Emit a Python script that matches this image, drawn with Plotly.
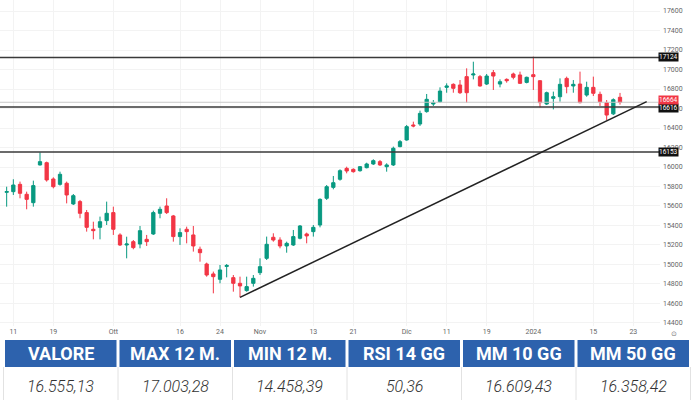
import pandas as pd
import plotly.graph_objects as go

# Data: daily candles, 8 Sep 2023 - 19 Jan 2024
opens = [15740, 15747, 15822, 15720, 15634, 16021, 16044, 15877, 15822, 15833,
         15621, 15645, 15532, 15361, 15381, 15450, 15532, 15303, 15200, 15234,
         15210, 15258, 15313, 15525, 15600, 15498, 15286, 15361, 15303, 15156,
         15005, 14903, 14848, 14980, 14865, 14807, 14732, 14807, 14916, 15063,
         15279, 15251, 15190, 15200, 15269, 15313, 15337, 15405, 15679, 15791,
         15874, 15986, 15976, 15962, 15993, 16031, 16055, 16003, 16021, 16209,
         16277, 16431, 16441, 16568, 16646, 16670, 16817, 16848, 16841, 16927,
         16944, 16927, 16851, 16968, 16851, 16899, 16954, 16944, 16868, 16947,
         16885, 16646, 16704, 16721, 16909, 16831, 16851, 16738, 16817, 16745,
         16660, 16545, 16715]
highs = [15798, 15874, 15850, 15747, 15860, 16150, 16055, 15894, 15952, 15850,
         15723, 15662, 15559, 15439, 15491, 15645, 15593, 15320, 15285, 15251,
         15395, 15303, 15552, 15593, 15679, 15508, 15371, 15388, 15395, 15183,
         15019, 14927, 14995, 15005, 14892, 14875, 14875, 14892, 15063, 15286,
         15320, 15279, 15234, 15354, 15405, 15327, 15405, 15679, 15815, 15908,
         15976, 16003, 15986, 16010, 16044, 16079, 16072, 16038, 16209, 16277,
         16431, 16465, 16578, 16749, 16687, 16817, 16858, 16858, 16892, 17012,
         17080, 16944, 16954, 16995, 16899, 16909, 16968, 16978, 16927, 17132,
         16892, 16773, 16773, 16909, 16927, 16892, 16978, 16875, 16927, 16773,
         16687, 16704, 16760]
lows = [15593, 15713, 15679, 15566, 15593, 16015, 15850, 15781, 15809, 15627,
        15610, 15474, 15337, 15258, 15258, 15405, 15303, 15190, 15063, 15156,
        15166, 15190, 15303, 15474, 15518, 15234, 15200, 15217, 15132, 15029,
        14875, 14704, 14807, 14868, 14721, 14663, 14721, 14773, 14892, 15046,
        15234, 15166, 15121, 15190, 15258, 15217, 15286, 15381, 15662, 15771,
        15860, 15935, 15942, 15952, 15986, 16021, 16010, 15952, 16010, 16202,
        16270, 16407, 16421, 16557, 16626, 16660, 16762, 16762, 16749, 16660,
        16899, 16824, 16841, 16790, 16817, 16865, 16899, 16851, 16858, 16790,
        16612, 16636, 16591, 16670, 16756, 16762, 16653, 16721, 16728, 16626,
        16482, 16533, 16640]
closes = [15748, 15815, 15730, 15668, 15809, 16055, 15867, 15798, 15925, 15713,
          15706, 15525, 15381, 15347, 15439, 15525, 15361, 15200, 15210, 15173,
          15347, 15234, 15532, 15566, 15532, 15286, 15327, 15337, 15190, 15121,
          14892, 14875, 14944, 14990, 14807, 14780, 14773, 14858, 14978, 15207,
          15251, 15190, 15217, 15286, 15395, 15293, 15381, 15668, 15798, 15839,
          15962, 15959, 15952, 16003, 16031, 16065, 16021, 16021, 16192, 16260,
          16414, 16421, 16550, 16694, 16660, 16779, 16831, 16807, 16762, 16762,
          16954, 16831, 16933, 16933, 16875, 16885, 16920, 16858, 16920, 16927,
          16660, 16762, 16721, 16848, 16824, 16848, 16660, 16817, 16756, 16670,
          16533, 16690, 16664]

# trading calendar (Xetra holidays removed)
holidays = ['2023-12-25', '2023-12-26', '2024-01-01']
days = pd.bdate_range('2023-09-08', '2024-01-26')
days = days[~days.isin(pd.to_datetime(holidays))]

tick_dates = ['2023-09-11', '2023-09-19', '2023-10-02', '2023-10-16', '2023-10-24',
              '2023-11-01', '2023-11-13', '2023-11-21', '2023-12-01', '2023-12-11',
              '2023-12-19', '2024-01-02', '2024-01-15', '2024-01-23']
tick_text = ['11', '19', 'Ott', '16', '24', 'Nov', '13', '21', 'Dic', '11',
             '19', '2024', '15', '23']
tick_idx = [days.get_loc(pd.Timestamp(d)) for d in tick_dates]

price_ticks = list(range(14400, 17601, 200))

levels = [17124, 16616, 16153]
last_price = 16664
trend_x = [35, 96]
trend_y = [14663, 16670]

# table under the chart
table_head = ['VALORE', 'MAX 12 M.', 'MIN 12 M.', 'RSI 14 GG', 'MM 10 GG', 'MM 50 GG']
table_vals = ['16.555,13', '17.003,28', '14.458,39', '50,36', '16.609,43', '16.358,42']

green = '#089981'
red = '#f23645'
blue = '#2d62ad'

W, H = 700, 400
plot_right = 660
box_x = 679 / W

x = list(range(len(closes)))

fig = go.Figure()

fig.add_trace(go.Candlestick(
    x=x, open=opens, high=highs, low=lows, close=closes,
    increasing=dict(line=dict(color=green, width=1), fillcolor=green),
    decreasing=dict(line=dict(color=red, width=1), fillcolor=red),
    whiskerwidth=0,
    showlegend=False,
))

# table: header cells + value row
col_left, col_pitch, col_w = 5, 114.5, 111.5
head_top, head_bot, row_bot = 340, 367, 400
for k, (h, v) in enumerate(zip(table_head, table_vals)):
    x0 = col_left + k * col_pitch
    fig.add_shape(type='rect', xref='paper', yref='paper',
                  x0=x0 / W, x1=(x0 + col_w) / W,
                  y0=1 - head_bot / H, y1=1 - head_top / H,
                  fillcolor=blue, line_width=0, layer='below')
    fig.add_annotation(xref='paper', yref='paper', x=(x0 + col_w / 2) / W,
                       y=1 - (head_top + head_bot) / 2 / H, text='<b>%s</b>' % h,
                       showarrow=False, xanchor='center', yanchor='middle',
                       font=dict(family='Roboto', size=18, color='white'))
    fig.add_annotation(xref='paper', yref='paper', x=(x0 + col_w / 2) / W,
                       y=1 - 386 / H, text=v,
                       showarrow=False, xanchor='center', yanchor='middle',
                       font=dict(family='Roboto', size=16, color='#333333',
                                 style='italic', weight=300))
for k in range(len(table_head) + 1):
    xs = col_left + k * col_pitch - 1.5
    fig.add_shape(type='line', xref='paper', yref='paper', x0=xs / W, x1=xs / W,
                  y0=0, y1=1 - head_bot / H, line=dict(color='#e2e2e2', width=1))

for lv in levels:
    fig.add_shape(type='line', xref='paper', yref='y', x0=0, x1=667 / W, y0=lv, y1=lv,
                  line=dict(color='#3a3a3a', width=1.5))
    fig.add_annotation(xref='paper', yref='y', x=box_x, y=lv, text=str(lv),
                       showarrow=False, bgcolor='#111111', borderpad=0,
                       yshift=-1 if lv == 16616 else 0,
                       font=dict(family='Roboto', size=6.5, color='white'))

fig.add_shape(type='line', xref='paper', yref='y', x0=0, x1=667 / W,
              y0=last_price, y1=last_price, line=dict(color='#c8c8c8', width=1))
fig.add_annotation(xref='paper', yref='y', x=box_x, y=last_price, text=str(last_price),
                   showarrow=False, bgcolor=red, borderpad=0, yshift=2,
                   font=dict(family='Roboto', size=6.5, color='white'))

fig.add_shape(type='line', xref='x', yref='y', x0=trend_x[0], x1=trend_x[1],
              y0=trend_y[0], y1=trend_y[1], line=dict(color='#222222', width=1.5))

fig.add_annotation(xref='paper', yref='paper', x=box_x, y=1 - 333 / H, text='⊙',
                   showarrow=False, yanchor='middle', font=dict(size=7, color='#777777'))

fig.update_layout(
    width=W, height=H,
    margin=dict(l=0, r=0, t=0, b=0),
    paper_bgcolor='white',
    plot_bgcolor='white',
    xaxis=dict(
        domain=[0, plot_right / W],
        range=[-1, 98],
        rangeslider=dict(visible=False),
        tickvals=tick_idx, ticktext=tick_text,
        tickfont=dict(family='Roboto', size=7, color='#666666'),
        showgrid=True, gridcolor='#f3f3f3',
        zeroline=False, showline=False, ticks='',
    ),
    yaxis=dict(
        domain=[1 - 326 / H, 1],
        side='right',
        range=[14369, 17713],
        tickvals=price_ticks,
        ticktext=[str(v) for v in price_ticks],
        tickfont=dict(family='Roboto', size=7, color='#666666'),
        showgrid=True, gridcolor='#f3f3f3',
        zeroline=False, showline=False, ticks='',
        ticklabelstandoff=2,
    ),
)

# page has a default 8px body margin; drop it so the figure sits at 0,0
fig.write_html("out.html", config={'displayModeBar': False},
               post_script="document.body.style.margin='0px';")
